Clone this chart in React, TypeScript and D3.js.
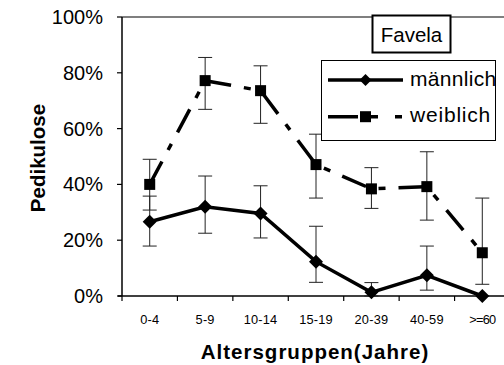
import React from 'react'
import * as d3 from 'd3'

const categories = ['0-4', '5-9', '10-14', '15-19', '20-39', '40-59', '>=60']
const maennlich = [26.6, 32, 29.6, 12.3, 1.3, 7.4, 0]
const maennlichHi = [35.8, 43, 39.5, 25, 4.8, 17.9, null]
const maennlichLo = [17.9, 22.5, 20.8, 4.9, 0, 2.1, null]
const weiblich = [40, 77.2, 73.6, 47.1, 38.4, 39.2, 15.5]
const weiblichHi = [49, 85.5, 82.5, 58, 46, 51.7, 35.1]
const weiblichLo = [30.8, 66.9, 61.9, 35.1, 31.4, 27.2, 4.2]
const yTicks = [0, 20, 40, 60, 80, 100]

const FONT = '"Liberation Sans", Arial, sans-serif'
const W = 504
const H = 365
const left = 122
const top = 17
const bottom = 296
const right = 510

const DASH = '26,13,7,13'

export default function App() {
  const x = d3.scaleBand<string>().domain(categories).range([left, right])
  const y = d3.scaleLinear().domain([0, 100]).range([bottom, top])
  const cx = (c: string) => (x(c) ?? 0) + x.bandwidth() / 2

  const line = d3
    .line<number>()
    .x((_, i) => cx(categories[i]))
    .y((d) => y(d))

  const errBars = (hi: (number | null)[], lo: (number | null)[], key: string) =>
    categories.map((c, i) => {
      const h = hi[i]
      const l = lo[i]
      if (h == null || l == null) return null
      const xc = cx(c)
      return (
        <g key={key + i} stroke="#222" strokeWidth={1}>
          <line x1={xc} x2={xc} y1={y(h)} y2={y(l)} />
          <line x1={xc - 7} x2={xc + 7} y1={y(h)} y2={y(h)} />
          <line x1={xc - 7} x2={xc + 7} y1={y(l)} y2={y(l)} />
        </g>
      )
    })

  const diamond = (px: number, py: number, r: number, key: string) => (
    <path key={key} d={`M${px},${py - r}L${px + r},${py}L${px},${py + r}L${px - r},${py}Z`} fill="#000" />
  )
  const square = (px: number, py: number, s: number, key: string) => (
    <rect key={key} x={px - s / 2} y={py - s / 2} width={s} height={s} fill="#000" />
  )

  return (
    <svg
      width={W}
      height={H}
      style={{ position: 'fixed', left: 0, top: 0, background: '#fff' }}
      fontFamily={FONT}
    >
      {/* plot frame */}
      <line x1={left} x2={W} y1={top} y2={top} stroke="#000" strokeWidth={1.2} />
      <line x1={left} x2={left} y1={top} y2={bottom} stroke="#000" strokeWidth={1.5} />
      <line x1={left - 4} x2={W} y1={bottom} y2={bottom} stroke="#000" strokeWidth={1.5} />

      {/* y axis */}
      {yTicks.map((t) => (
        <g key={'y' + t}>
          <line x1={left - 5} x2={left} y1={y(t)} y2={y(t)} stroke="#000" strokeWidth={1.2} />
          <text x={103} y={y(t) + 7} textAnchor="end" fontSize={20} fill="#000">
            {t}%
          </text>
        </g>
      ))}

      {/* x axis */}
      {categories.map((c, i) => (
        <g key={'x' + c}>
          <line
            x1={(x(c) ?? 0)}
            x2={(x(c) ?? 0)}
            y1={bottom}
            y2={bottom + 5}
            stroke="#000"
            strokeWidth={1.2}
          />
          <text x={cx(c)} y={324} textAnchor="middle" fontSize={12.8} fill="#000"
            letterSpacing={i === 6 ? -0.8 : 0.2}>
            {c}
          </text>
        </g>
      ))}

      <text x={315} y={359} textAnchor="middle" fontSize={20.5} fontWeight="bold" letterSpacing={1}>
        Altersgruppen(Jahre)
      </text>
      <text
        transform="translate(45,158) rotate(-90)"
        textAnchor="middle"
        fontSize={20.5}
        fontWeight="bold"
      >
        Pedikulose
      </text>

      {/* error bars */}
      {errBars(weiblichHi, weiblichLo, 'we')}
      {errBars(maennlichHi, maennlichLo, 'me')}

      {/* series */}
      <path d={line(weiblich) ?? ''} fill="none" stroke="#000" strokeWidth={3.5} strokeDasharray={DASH} />
      <path d={line(maennlich) ?? ''} fill="none" stroke="#000" strokeWidth={3.5} />
      {weiblich.map((v, i) => square(cx(categories[i]), y(v), 11, 'ws' + i))}
      {maennlich.map((v, i) => diamond(cx(categories[i]), y(v), 7, 'md' + i))}

      {/* Favela box */}
      <rect x={372.5} y={15.5} width={78} height={37} fill="#fff" stroke="#000" strokeWidth={2} />
      <text x={411.5} y={41.5} textAnchor="middle" fontSize={20.5}>
        Favela
      </text>

      {/* legend */}
      <rect x={321.5} y={60.5} width={174} height={80} fill="#fff" stroke="#000" strokeWidth={1} />
      <line x1={328} x2={403} y1={80} y2={80} stroke="#000" strokeWidth={3.5} />
      {diamond(365.5, 80, 6, 'lg1')}
      <text x={410} y={86} fontSize={21} letterSpacing={0.3}>
        männlich
      </text>
      <line x1={328} x2={403} y1={116.7} y2={116.7} stroke="#000" strokeWidth={3.5} strokeDasharray="30,13,7,17,7" />
      {square(365.5, 116.7, 11, 'lg2')}
      <text x={410} y={122} fontSize={21} letterSpacing={0.8}>
        weiblich
      </text>
    </svg>
  )
}
